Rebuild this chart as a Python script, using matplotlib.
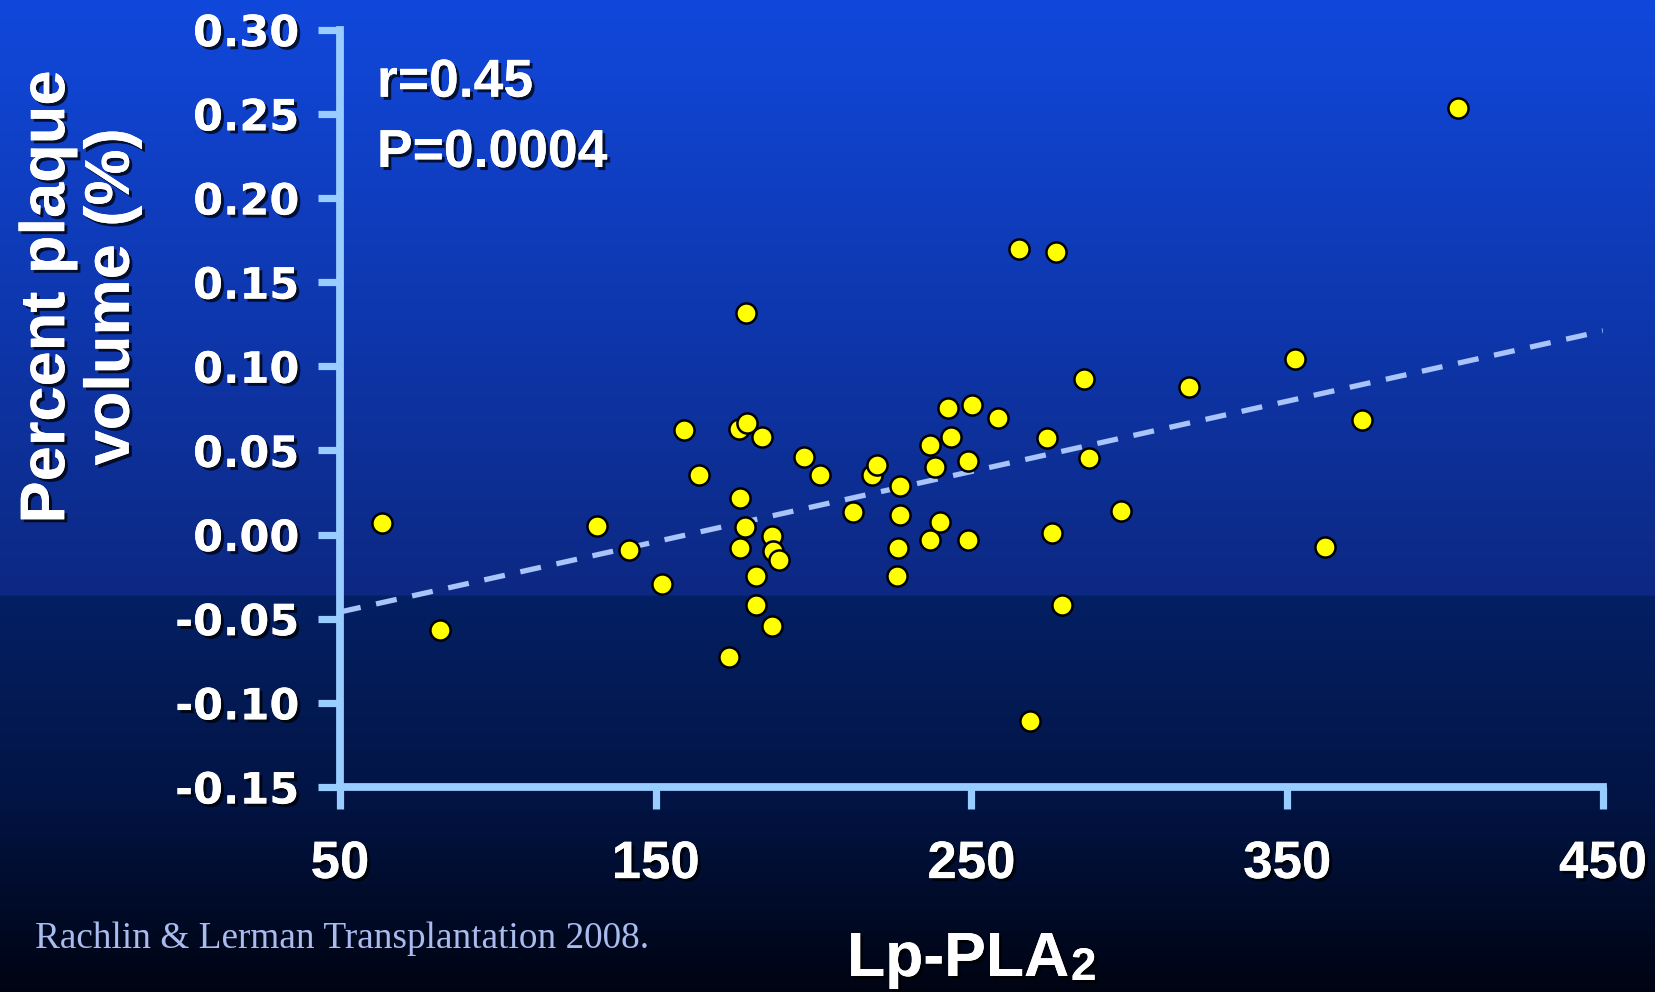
import numpy as np
import matplotlib
matplotlib.use("Agg")
import matplotlib.pyplot as plt
import matplotlib.patheffects as pe

# ---- data ----
x_vals = [63.4, 81.7, 131.5, 141.6, 151.9, 158.9, 163.6, 173.3, 176.3, 178.7,
          179.0, 176.6, 178.3, 176.6, 181.7, 181.7, 183.7, 186.7, 187.1, 189.1,
          186.7, 197.0, 202.0, 212.4, 218.4, 220.1, 227.4, 227.4, 226.8, 226.4,
          236.8, 238.5, 236.8, 240.1, 242.5, 243.5, 248.8, 248.8, 250.2, 258.5,
          265.2, 268.6, 273.9, 275.6, 276.9, 278.6, 285.6, 287.3, 297.3, 319.0,
          352.4, 362.1, 373.8, 404.2]
y_vals = [0.0067, -0.0567, 0.0048, -0.0089, -0.0296, 0.0619, 0.0355, -0.0730, 0.0625, 0.1315,
          0.0663, 0.0218, 0.0042, -0.0078, -0.0248, -0.0418, 0.0581, -0.0008, -0.0096, -0.0153,
          -0.0541, 0.0462, 0.0355, 0.0136, 0.0355, 0.0412, 0.0287, 0.0117, -0.0078, -0.0248,
          0.0531, 0.0399, -0.0033, 0.0073, 0.0751, 0.0581, 0.0437, -0.0033, 0.0770, 0.0695,
          0.1698, -0.1105, 0.0575, 0.0011, 0.1679, -0.0418, 0.0926, 0.0456, 0.0142, 0.0876,
          0.1045, -0.0071, 0.0681, 0.2537]
fit_x = [50, 450]
fit_y = [-0.046, 0.121]
x_ticks = [50, 150, 250, 350, 450]
x_tick_labels = ["50", "150", "250", "350", "450"]
y_ticks = [0.30, 0.25, 0.20, 0.15, 0.10, 0.05, 0.00, -0.05, -0.10, -0.15]
y_tick_labels = ["0.30", "0.25", "0.20", "0.15", "0.10", "0.05", "0.00", "-0.05", "-0.10", "-0.15"]
stat_r = "r=0.45"
stat_p = "P=0.0004"
y_label = "Percent plaque\nvolume (%)"
x_label_main = "Lp-PLA"
x_label_sub = "2"
citation = "Rachlin & Lerman Transplantation 2008."

W, H = 1655, 992
fig = plt.figure(figsize=(W / 100, H / 100), dpi=100)

# background gradient
stops_y = [0, 300, 594, 596, 800, 991]
stops_c = np.array([[17, 72, 220], [14, 56, 176], [12, 40, 130],
                    [4, 32, 100], [2, 20, 68], [0, 4, 18]]) / 255.0
yy = np.arange(H)
grad = np.stack([np.interp(yy, stops_y, stops_c[:, i]) for i in range(3)], axis=1)
bg = fig.add_axes([0, 0, 1, 1])
bg.imshow(grad[:, None, :], aspect='auto', extent=[0, 1, 0, 1], origin='upper')
bg.set_axis_off()
bg.set_zorder(-10)

axis_col = '#99CCFF'
shadow = [pe.withSimplePatchShadow(offset=(2.2, -2.2), shadow_rgbFace='black', alpha=0.75), pe.Normal()]

ax = fig.add_axes([340 / W, (H - 787) / H, 1263 / W, (787 - 29.7) / H])
ax.patch.set_alpha(0)
ax.set_xlim(50, 450)
ax.set_ylim(-0.15, 0.30)

ax.plot(fit_x, fit_y, color='#A8C4F8', lw=3.8, dashes=(4.0, 3.0), zorder=2,
        dash_capstyle='butt')
ax.scatter(x_vals, y_vals, s=14.5 ** 2, c='#FFFF00', edgecolors='black', linewidths=1.8,
           zorder=3, clip_on=False)

for s in ['top', 'right']:
    ax.spines[s].set_visible(False)
for s in ['left', 'bottom']:
    ax.spines[s].set_color(axis_col)
    ax.spines[s].set_linewidth(5.6)
    ax.spines[s].set_capstyle('projecting')

ax.set_xticks(x_ticks)
ax.set_xticklabels(x_tick_labels)
ax.set_yticks(y_ticks)
ax.set_yticklabels(y_tick_labels)
ax.tick_params(axis='both', colors=axis_col, width=5.2, length=15.5, direction='out')
ax.tick_params(axis='x', pad=22, labelcolor='white')
ax.tick_params(axis='y', pad=14, labelcolor='white')
for lab in ax.get_xticklabels():
    lab.set_fontfamily('Liberation Sans')
    lab.set_fontweight('bold')
    lab.set_fontsize(38)
    lab.set_path_effects(shadow)
for lab in ax.get_yticklabels():
    lab.set_fontfamily('DejaVu Sans')
    lab.set_fontweight('bold')
    lab.set_fontsize(31)
    lab.set_path_effects(shadow)

fig.text(377 / W, 1 - 96.7 / H, stat_r, fontsize=38.5, fontweight='bold', family='Liberation Sans',
         color='white', va='baseline', ha='left', path_effects=shadow)
fig.text(377 / W, 1 - 167 / H, stat_p, fontsize=38.5, fontweight='bold', family='Liberation Sans',
         color='white', va='baseline', ha='left', path_effects=shadow)

fig.text(80 / W, 1 - 297 / H, y_label, rotation=90, fontsize=45.5, fontweight='bold',
         family='Liberation Sans', color='white', ha='center', va='center',
         multialignment='center', linespacing=1.12, path_effects=shadow)

fig.text(847 / W, 1 - 976 / H, x_label_main, fontsize=45, fontweight='bold', family='Liberation Sans',
         color='white', ha='left', va='baseline', path_effects=shadow)
fig.text(1071 / W, 1 - 990 / H, x_label_sub, fontsize=33, fontweight='bold', family='Liberation Sans',
         color='white', ha='left', va='bottom', path_effects=shadow)

fig.text(35 / W, 1 - 948 / H, citation, fontsize=26.8, family='Liberation Serif', color='#AABBEE',
         ha='left', va='baseline')

fig.savefig('out.png', dpi=100)
